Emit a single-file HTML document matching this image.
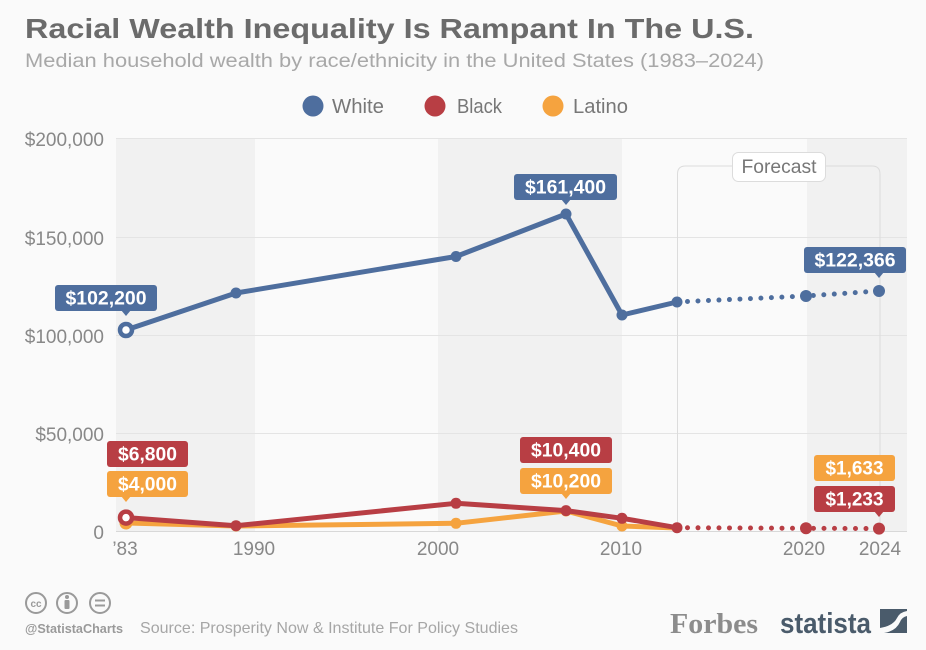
<!DOCTYPE html>
<html><head><meta charset="utf-8"><style>
html,body{margin:0;padding:0;background:#fafafa;}
svg{display:block;}
text{font-family:"Liberation Sans",sans-serif;}
</style></head><body>
<svg width="926" height="650" viewBox="0 0 926 650" xmlns="http://www.w3.org/2000/svg">
<rect width="926" height="650" fill="#fafafa"/>
<!-- Title -->
<text x="25" y="38" font-size="28" font-weight="bold" fill="#6b6b6b" textLength="729" lengthAdjust="spacingAndGlyphs">Racial Wealth Inequality Is Rampant In The U.S.</text>
<text x="25" y="67" font-size="19" fill="#a8a8a8" textLength="739" lengthAdjust="spacingAndGlyphs">Median household wealth by race/ethnicity in the United States (1983–2024)</text>
<!-- Legend -->
<circle cx="313" cy="106" r="10.5" fill="#4e6e9e"/>
<text x="332" y="113" font-size="20" fill="#777" textLength="52" lengthAdjust="spacingAndGlyphs">White</text>
<circle cx="435" cy="106" r="10.5" fill="#b83e44"/>
<text x="457" y="113" font-size="20" fill="#777" textLength="45" lengthAdjust="spacingAndGlyphs">Black</text>
<circle cx="553" cy="106" r="10.5" fill="#f5a33f"/>
<text x="573" y="113" font-size="20" fill="#777" textLength="55" lengthAdjust="spacingAndGlyphs">Latino</text>

<!-- Plot bands -->
<rect x="116" y="138" width="139" height="393" fill="#f1f1f1"/>
<rect x="438" y="138" width="184" height="393" fill="#f1f1f1"/>
<rect x="807" y="138" width="100" height="393" fill="#f1f1f1"/>
<!-- gridlines -->
<g stroke="#e4e4e4" stroke-width="1">
<line x1="116" y1="138.5" x2="907" y2="138.5"/>
<line x1="116" y1="237.5" x2="907" y2="237.5"/>
<line x1="116" y1="335.5" x2="907" y2="335.5"/>
<line x1="116" y1="433.5" x2="907" y2="433.5"/>
</g>
<line x1="116" y1="531.5" x2="907" y2="531.5" stroke="#d8d8d8" stroke-width="1"/>

<!-- Forecast box -->
<path d="M677.5 531 V174 Q677.5 166 685.5 166 H872 Q880 166 880 174 V531" fill="none" stroke="#dcdcdc" stroke-width="1"/>
<rect x="732.5" y="152.5" width="93" height="29" rx="6" fill="#fff" stroke="#dcdcdc" stroke-width="1"/>
<text x="779" y="173" font-size="19" fill="#777" text-anchor="middle" textLength="75" lengthAdjust="spacingAndGlyphs">Forecast</text>

<!-- Y axis labels -->
<g font-size="19" fill="#888" text-anchor="end">
<text x="104" y="146">$200,000</text>
<text x="104" y="245">$150,000</text>
<text x="104" y="343">$100,000</text>
<text x="104" y="441">$50,000</text>
<text x="104" y="539">0</text>
</g>
<!-- X axis labels -->
<g font-size="19" fill="#888" text-anchor="middle">
<text x="125" y="555">’83</text>
<text x="254" y="555">1990</text>
<text x="438" y="555">2000</text>
<text x="621" y="555">2010</text>
<text x="804" y="555">2020</text>
<text x="880" y="555">2024</text>
</g>

<!-- Latino series -->
<g stroke="#f5a33f" fill="#f5a33f">
<polyline points="126,523 236,526 456,523.3 566,511 622,526 677,528" fill="none" stroke-width="5" stroke-linejoin="round"/>
<circle cx="126" cy="523" r="6.5" stroke="none"/>
<circle cx="236" cy="526" r="5.5" stroke="none"/>
<circle cx="456" cy="523.3" r="5.5" stroke="none"/>
<circle cx="566" cy="511" r="5.5" stroke="none"/>
<circle cx="622" cy="526" r="5.5" stroke="none"/>
</g>
<!-- Black series -->
<g stroke="#b83e44" fill="#b83e44">
<polyline points="126,517.6 236,525.7 456,503.3 566,510.6 622,518.3 677,527.7" fill="none" stroke-width="5" stroke-linejoin="round"/>
<polyline points="677,527.7 806,528.3 879,528.6" fill="none" stroke-width="5" stroke-dasharray="0 10.5" stroke-linecap="round"/>
<circle cx="236" cy="525.7" r="5.5" stroke="none"/>
<circle cx="456" cy="503.3" r="5.5" stroke="none"/>
<circle cx="566" cy="510.6" r="5.5" stroke="none"/>
<circle cx="622" cy="518.3" r="5.5" stroke="none"/>
<circle cx="677" cy="527.7" r="5.5" stroke="none"/>
<circle cx="806" cy="528.3" r="6" stroke="none"/>
<circle cx="879" cy="528.6" r="6" stroke="none"/>
<circle cx="126" cy="517.6" r="6" fill="#fff" stroke-width="4.5"/>
</g>
<!-- White series -->
<g stroke="#4e6e9e" fill="#4e6e9e">
<polyline points="126,330 236,293 456,256.5 566,214 622,315 677,302" fill="none" stroke-width="5" stroke-linejoin="round"/>
<polyline points="677,302 806,296 879,291" fill="none" stroke-width="5" stroke-dasharray="0 10.5" stroke-linecap="round"/>
<circle cx="236" cy="293" r="5.5" stroke="none"/>
<circle cx="456" cy="256.5" r="5.5" stroke="none"/>
<circle cx="566" cy="214" r="5.5" stroke="none"/>
<circle cx="622" cy="315" r="5.5" stroke="none"/>
<circle cx="677" cy="302" r="5.5" stroke="none"/>
<circle cx="806" cy="296" r="6" stroke="none"/>
<circle cx="879" cy="291" r="6" stroke="none"/>
<circle cx="126" cy="330" r="6" fill="#fff" stroke-width="4.5"/>
</g>

<!-- Value labels -->
<g font-size="19" font-weight="bold" fill="#fff" text-anchor="middle">
<rect x="55" y="285" width="102" height="26" rx="3" fill="#4e6e9e"/>
<path d="M121 310 L126 316 L131 310 Z" fill="#4e6e9e"/>
<text x="106" y="304.5" textLength="81" lengthAdjust="spacingAndGlyphs">$102,200</text>
<rect x="514" y="174" width="103" height="26" rx="3" fill="#4e6e9e"/>
<path d="M561 199 L566 205 L571 199 Z" fill="#4e6e9e"/>
<text x="565.5" y="193.5" textLength="81" lengthAdjust="spacingAndGlyphs">$161,400</text>
<rect x="804" y="247" width="102" height="26" rx="3" fill="#4e6e9e"/>
<path d="M874 272 L879 278 L884 272 Z" fill="#4e6e9e"/>
<text x="855" y="266.5" textLength="81" lengthAdjust="spacingAndGlyphs">$122,366</text>
<rect x="107" y="441" width="81" height="26" rx="3" fill="#b83e44"/>
<text x="147.5" y="460.5" textLength="59" lengthAdjust="spacingAndGlyphs">$6,800</text>
<rect x="107" y="471" width="81" height="26" rx="3" fill="#f5a33f"/>
<path d="M121 496 L126 502 L131 496 Z" fill="#f5a33f"/>
<text x="147.5" y="490.5" textLength="59" lengthAdjust="spacingAndGlyphs">$4,000</text>
<rect x="520" y="437" width="92" height="26" rx="3" fill="#b83e44"/>
<text x="566" y="456.5" textLength="70" lengthAdjust="spacingAndGlyphs">$10,400</text>
<rect x="520" y="468" width="92" height="26" rx="3" fill="#f5a33f"/>
<path d="M561 493 L566 499 L571 493 Z" fill="#f5a33f"/>
<text x="566" y="487.5" textLength="70" lengthAdjust="spacingAndGlyphs">$10,200</text>
<rect x="814" y="455" width="81" height="26" rx="3" fill="#f5a33f"/>
<text x="854.5" y="474.5" textLength="58" lengthAdjust="spacingAndGlyphs">$1,633</text>
<rect x="814" y="486" width="81" height="26" rx="3" fill="#b83e44"/>
<path d="M874 511 L879 517 L884 511 Z" fill="#b83e44"/>
<text x="854.5" y="505.5" textLength="58" lengthAdjust="spacingAndGlyphs">$1,233</text>
</g>

<!-- Footer: CC icons -->
<g fill="none" stroke="#9a9a9a" stroke-width="2">
<circle cx="36" cy="603" r="10"/>
<circle cx="67" cy="603" r="10"/>
<circle cx="100" cy="603" r="10"/>
</g>
<text x="36" y="607" font-size="10" font-weight="bold" fill="#9a9a9a" text-anchor="middle">cc</text>
<circle cx="67" cy="597" r="2" fill="#9a9a9a"/>
<rect x="64.5" y="600" width="5" height="9" rx="1" fill="#9a9a9a"/>
<rect x="95" y="599.5" width="10" height="2" fill="#9a9a9a"/>
<rect x="95" y="604.5" width="10" height="2" fill="#9a9a9a"/>
<text x="25" y="633" font-size="13" font-weight="bold" fill="#9a9a9a" textLength="98" lengthAdjust="spacingAndGlyphs">@StatistaCharts</text>
<text x="140" y="633" font-size="16" fill="#a6a6a6" textLength="378" lengthAdjust="spacingAndGlyphs">Source: Prosperity Now &amp; Institute For Policy Studies</text>

<!-- Forbes / statista -->
<text x="670" y="633" font-size="29" font-weight="bold" fill="#8c8c8c" textLength="88" lengthAdjust="spacingAndGlyphs" style="font-family:'Liberation Serif',serif">Forbes</text>
<text x="780" y="633" font-size="29" font-weight="bold" fill="#4a5b6b" textLength="91" lengthAdjust="spacingAndGlyphs">statista</text>
<rect x="880" y="609" width="27" height="24" fill="#4a5b6b"/>
<path d="M880 633 L880 628 Q893 626 897 618 Q900 612 907 611 L907 616 Q902 617 900 622 Q896 631 884 633 Z" fill="#fafafa"/>
</svg>
</body></html>
